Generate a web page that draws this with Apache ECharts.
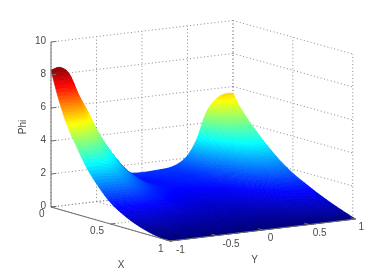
<!DOCTYPE html>
<html><head><meta charset="utf-8">
<style>html,body{margin:0;padding:0;background:#fff}#c{width:390px;height:271px}</style>
<script src="https://cdn.jsdelivr.net/npm/echarts@6/dist/echarts.min.js"></script>
</head><body><div id="c"></div>
<script>
// ---- data ----
const xValues = [0,0.05,0.1,0.15,0.2,0.3,0.4,0.5,0.6,0.7,0.8,0.9,1];
const yValues = [-1,-0.9,-0.8,-0.7,-0.6,-0.5,-0.4,-0.3,-0.2,-0.1,0,0.1,0.2,0.3,0.4,0.5,0.6,0.7,0.8,0.9,1];
const phiX000 = [8.3,8.4,7.95,6.65,5.55,4.2,3.15,2.35,1.6,1.47,1.44,1.45,1.48,1.53,1.72,2.15,3.05,4.55,5.3,5.6,5.6];
const phiX005 = [7.0,7.0,6.7,5.8,4.85,3.85,2.95,2.15,1.4,1.25,1.28,1.4,1.45,1.5,1.68,2.1,2.9,4.1,4.75,4.98,4.95];
const phiX010 = [5.9,5.9,5.65,5.0,4.25,3.4,2.65,1.95,1.32,1.2,1.25,1.35,1.4,1.45,1.62,2.0,2.7,3.65,4.2,4.45,4.45];
const phiX015 = [5.0,5.0,4.8,4.3,3.65,2.95,2.3,1.8,1.3,1.18,1.22,1.3,1.35,1.4,1.55,1.9,2.45,3.25,3.8,4.0,4.0];
const phiX020 = [4.3,4.3,4.1,3.7,3.15,2.6,2.05,1.65,1.3,1.2,1.2,1.25,1.3,1.36,1.48,1.78,2.25,2.9,3.4,3.6,3.6];
const phiX030 = [3.0,3.0,2.9,2.7,2.35,2.0,1.65,1.4,1.25,1.15,1.1,1.12,1.15,1.22,1.32,1.55,1.9,2.35,2.7,2.85,2.85];
const phiX040 = [2.05,2.05,2.05,1.95,1.78,1.55,1.35,1.18,1.05,0.98,0.95,0.96,1.0,1.05,1.15,1.32,1.58,1.88,2.1,2.2,2.2];
const phiX050 = [1.3,1.32,1.35,1.35,1.3,1.2,1.1,0.92,0.82,0.78,0.75,0.77,0.8,0.85,0.95,1.08,1.25,1.45,1.6,1.68,1.68];
const phiX060 = [0.82,0.85,0.9,0.9,0.85,0.78,0.72,0.65,0.62,0.6,0.58,0.58,0.6,0.65,0.72,0.82,0.95,1.1,1.2,1.28,1.28];
const phiX070 = [0.47,0.5,0.55,0.55,0.52,0.48,0.45,0.43,0.42,0.4,0.4,0.4,0.42,0.45,0.5,0.58,0.68,0.78,0.85,0.9,0.9];
const phiX080 = [0.22,0.24,0.27,0.28,0.27,0.26,0.25,0.24,0.23,0.22,0.22,0.22,0.23,0.25,0.28,0.33,0.4,0.47,0.52,0.57,0.57];
const phiX090 = [0.06,0.08,0.1,0.11,0.11,0.1,0.1,0.1,0.1,0.09,0.09,0.09,0.1,0.11,0.12,0.14,0.17,0.2,0.23,0.27,0.27];
const phiX100 = [0,0,0,0,0,0,0,0,0,0,0,0,0,0,0,0,0,0,0,0,0];
const xTicks = [0,0.5,1];
const yTicks = [-1,-0.5,0,0.5,1];
const zTicks = [0,2,4,6,8,10];
const xTickLabels = ['0','0.5','1'];
const yTickLabels = ['-1','-0.5','0','0.5','1'];
const zTickLabels = ['0','2','4','6','8','10'];
const axisTitles = ['X','Y','Phi'];

const phiRows = [phiX000,phiX005,phiX010,phiX015,phiX020,phiX030,phiX040,phiX050,phiX060,phiX070,phiX080,phiX090,phiX100];
const colorMax = 8.4;

// ---- view projection of the 3-D box onto a flat plane ----
function project(x,y,z){
  const u=y+1;
  return [51+119*x+91*u+1.75*x*u, 207+34*x-10.75*u-0.25*x*u-16.5*z];
}
function projectWall(x,y,z){
  const u=y+1;
  return [51+119.75*x+91*u, 207+34*x-10.75*u-0.25*x*u-16.5*z];
}
function jet(v){
  const f=Math.max(0,Math.min(1,v/colorMax));
  const c=t=>Math.round(255*Math.max(0,Math.min(1,1.5-Math.abs(4*f-t))));
  return 'rgb('+c(3)+','+c(2)+','+c(1)+')';
}
// smooth shading between the table nodes (Hermite with spacing-aware tangents)
const SUB=6;
function tangents(pos,vals){
  const n=pos.length;
  return vals.map((v,k)=>{
    const a=Math.max(0,k-1),b=Math.min(n-1,k+1);
    return (vals[b]-vals[a])/(pos[b]-pos[a]);
  });
}
function herm(pos,vals,tan,k,t){
  const h=pos[k+1]-pos[k],t2=t*t,t3=t2*t;
  return (2*t3-3*t2+1)*vals[k]+(t3-2*t2+t)*h*tan[k]+(-2*t3+3*t2)*vals[k+1]+(t3-t2)*h*tan[k+1];
}
const rowTan=phiRows.map(r=>tangents(yValues,r));
function sampleZ(I,s,J,t){
  const col=phiRows.map((r,k)=>herm(yValues,r,rowTan[k],J,t));
  const ct=tangents(xValues,col);
  return Math.max(0,herm(xValues,col,ct,I,s));
}
const NI=(xValues.length-1)*SUB, NJ=(yValues.length-1)*SUB;
const nodes=[];
for(let a=0;a<=NI;a++){
  const fi=a/SUB,I=Math.min(Math.floor(fi),xValues.length-2),s=fi-I,X=xValues[I]+(xValues[I+1]-xValues[I])*s;
  const line=[];
  for(let b=0;b<=NJ;b++){
    const fj=b/SUB,J=Math.min(Math.floor(fj),yValues.length-2),t=fj-J,Y=yValues[J]+(yValues[J+1]-yValues[J])*t;
    const z=sampleZ(I,s,J,t);
    line.push({p:project(X,Y,z),z});
  }
  nodes.push(line);
}
const quads=[];
for(let a=0;a<NI;a++)for(let b=NJ-1;b>=0;b--)quads.push([a,b]);

// grid line segments
const xMax=1,yMin=-1,yMax=1,zMax=10;
const gridSegs=[];
zTicks.forEach(z=>{gridSegs.push([0,yMin,z,0,yMax,z]);gridSegs.push([0,yMax,z,xMax,yMax,z]);});
yTicks.forEach(y=>{gridSegs.push([0,y,0,0,y,zMax]);gridSegs.push([0,y,0,xMax,y,0]);});
xTicks.forEach(x=>{gridSegs.push([x,yMax,0,x,yMax,zMax]);gridSegs.push([x,yMin,0,x,yMax,0]);});
const axisSegs=[[0,yMin,0,0,yMin,zMax],[0,yMin,0,xMax,yMin,0],[xMax,yMin,0,xMax,yMax,0]];

const textStyle={fontFamily:'"Liberation Sans",Arial,sans-serif',fontSize:10,fill:'#4a4a4a'};
const labels=[];
const yLabelDx=[6,6,5,3.5,3], yLabelDy=[9.5,9,8,8.5,8.5], xLabelDy=[7,7.5,8.5];
zTicks.forEach((z,i)=>{const p=project(0,-1,z);labels.push([p[0]-5,p[1]-1,zTickLabels[i],'right',0]);});
xTicks.forEach((x,i)=>{const p=project(x,-1,0);labels.push([p[0]-6.5,p[1]+xLabelDy[i],xTickLabels[i],'right',0]);});
yTicks.forEach((y,i)=>{const p=project(1,y,0);labels.push([p[0]+yLabelDx[i],p[1]+yLabelDy[i],yTickLabels[i],'left',0]);});
labels.push([121,265,axisTitles[0],'center',0]);
labels.push([254.5,260,axisTitles[1],'center',0]);
labels.push([23,127,axisTitles[2],'center',Math.PI/2]);

const lineRender=(proj,stroke,width,dash)=>(params,api)=>{
  const s=[api.value(0),api.value(1),api.value(2),api.value(3),api.value(4),api.value(5)];
  const a=api.coord(proj(s[0],s[1],s[2])),b=api.coord(proj(s[3],s[4],s[5]));
  return {type:'line',shape:{x1:a[0],y1:a[1],x2:b[0],y2:b[1]},style:{stroke,lineWidth:width,lineDash:dash||null},silent:true};
};
const chart=echarts.init(document.getElementById('c'),null,{renderer:'canvas'});
chart.setOption({
  animation:false,
  backgroundColor:'#fff',
  grid:{left:0,top:0,width:390,height:271},
  xAxis:{type:'value',min:0,max:390,show:false},
  yAxis:{type:'value',min:0,max:271,inverse:true,show:false},
  series:[
    {type:'custom',name:'grid',coordinateSystem:'cartesian2d',silent:true,data:gridSegs,z:1,clip:false,
     encode:{x:[],y:[]},renderItem:lineRender(projectWall,'#8a8a8a',1,[1,2.5])},
    {type:'custom',name:'Phi',coordinateSystem:'cartesian2d',silent:true,data:quads,z:2,clip:false,progressive:0,
     renderItem:(params,api)=>{
       const a=api.value(0),b=api.value(1);
       const n=[nodes[a][b],nodes[a+1][b],nodes[a+1][b+1],nodes[a][b+1]];
       const pts=n.map(q=>api.coord(q.p));
       const col=jet((n[0].z+n[1].z+n[2].z+n[3].z)/4);
       return {type:'polygon',shape:{points:pts},style:{fill:col,stroke:col,lineWidth:0.6},silent:true};
     }},
    {type:'custom',name:'axes',coordinateSystem:'cartesian2d',silent:true,data:axisSegs,z:3,clip:false,
     renderItem:lineRender(project,'#6e6e6e',1)},
    {type:'custom',name:'ticks',coordinateSystem:'cartesian2d',silent:true,z:3,clip:false,
     data:zTicks.map(z=>[0,-1,z,0,-0.94,z]).concat(xTicks.map(x=>[x,-1,0,x,-0.95,0])).concat(yTicks.map(y=>[1,y,0,0.96,y,0])),
     renderItem:lineRender(project,'#6e6e6e',1)},
    {type:'custom',name:'labels',coordinateSystem:'cartesian2d',silent:true,z:4,clip:false,
     data:labels.map((l,i)=>[l[0],l[1],i]),
     renderItem:(params,api)=>{
       const l=labels[api.value(2)],c=api.coord([l[0],l[1]]);
       return {type:'text',x:c[0],y:c[1],rotation:l[4],style:Object.assign({},textStyle,{text:l[2],align:l[3],verticalAlign:'middle'}),silent:true};
     }}
  ]
});
</script></body></html>
